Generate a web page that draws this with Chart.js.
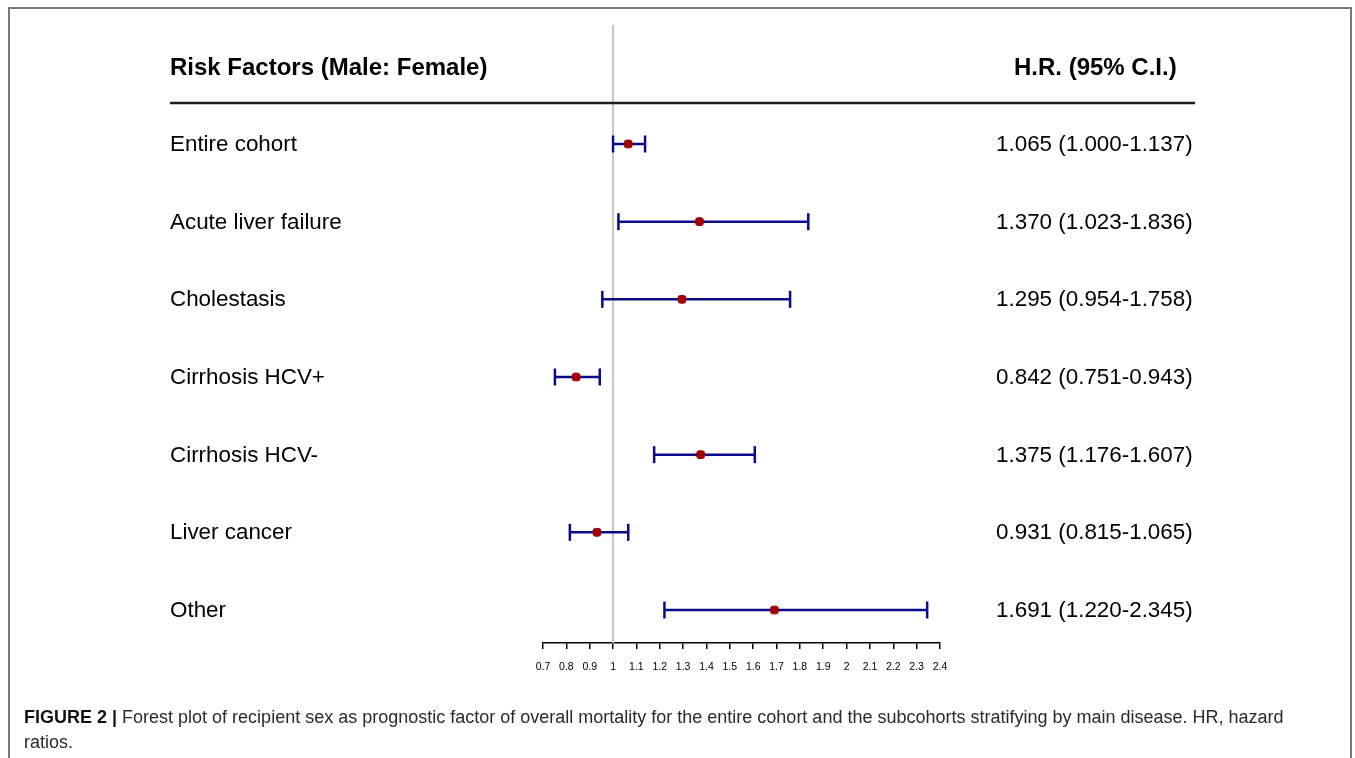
<!DOCTYPE html>
<html>
<head>
<meta charset="utf-8">
<script src="https://cdn.jsdelivr.net/npm/chart.js@4"></script>
<style>
  html, body { margin:0; padding:0; background:#fff; width:1355px; height:758px; overflow:hidden; }
  #frame { position:absolute; left:8px; top:7px; width:1344px; height:800px; border:2px solid #7a7a7a; box-sizing:border-box; }
  #wrap { position:absolute; left:0; top:0; width:1355px; height:758px; }
  #caption { position:absolute; left:24px; top:705px; font-family:"Liberation Sans", Arial, sans-serif; font-size:18px; line-height:25px; color:#2a2a2a; white-space:nowrap; }
  #caption b { color:#111; }
</style>
</head>
<body>
<div id="frame"></div>
<div id="wrap"><canvas id="c" width="1355" height="758"></canvas></div>
<div id="caption"><b>FIGURE 2 |</b> Forest plot of recipient sex as prognostic factor of overall mortality for the entire cohort and the subcohorts stratifying by main disease. HR, hazard<br>ratios.</div>
<script>
const categories = ["Entire cohort", "Acute liver failure", "Cholestasis", "Cirrhosis HCV+", "Cirrhosis HCV-", "Liver cancer", "Other"];
const hr    = [1.065, 1.370, 1.295, 0.842, 1.375, 0.931, 1.691];
const lower = [1.000, 1.023, 0.954, 0.751, 1.176, 0.815, 1.220];
const upper = [1.137, 1.836, 1.758, 0.943, 1.607, 1.065, 2.345];
const xTicks = [0.7, 0.8, 0.9, 1, 1.1, 1.2, 1.3, 1.4, 1.5, 1.6, 1.7, 1.8, 1.9, 2, 2.1, 2.2, 2.3, 2.4];
const xTickLabels = ["0.7","0.8","0.9","1","1.1","1.2","1.3","1.4","1.5","1.6","1.7","1.8","1.9","2","2.1","2.2","2.3","2.4"];
const refValue = 1;
const leftHeader = "Risk Factors (Male: Female)";
const rightHeader = "H.R. (95% C.I.)";

const Y_MIN = -1.532, Y_MAX = 6.425;
const FONT = '"Liberation Sans", Arial, sans-serif';
const NAVY = '#0a0a8a';
const RED = '#a00000';

const fmt = v => v.toFixed(3);
const hrText = categories.map((c, i) => `${fmt(hr[i])} (${fmt(lower[i])}-${fmt(upper[i])})`);

const ciDatasets = categories.map((c, i) => ({
  type: 'line',
  label: c + ' CI',
  data: [{x: lower[i], y: i}, {x: upper[i], y: i}],
  borderColor: NAVY,
  borderWidth: 2.5,
  pointStyle: 'line',
  pointRotation: 90,
  pointRadius: 8.5,
  pointBorderWidth: 2.5,
  pointBorderColor: NAVY,
  pointHoverRadius: 8.5,
  order: 2,
  clip: false
}));

const textPlugin = {
  id: 'forestText',
  afterDraw(chart) {
    const ctx = chart.ctx;
    const y = chart.scales.y;
    ctx.save();
    ctx.fillStyle = '#000';
    ctx.textBaseline = 'middle';
    ctx.font = 'bold 24px ' + FONT;
    ctx.textAlign = 'left';
    ctx.fillText(leftHeader, 170, 68);
    ctx.fillText(rightHeader, 1014, 68);
    ctx.strokeStyle = '#1e1e1e';
    ctx.lineWidth = 2.5;
    ctx.beginPath();
    ctx.moveTo(170, 103);
    ctx.lineTo(1195, 103);
    ctx.stroke();
    ctx.font = '22.4px ' + FONT;
    categories.forEach((c, i) => {
      const py = y.getPixelForValue(i) + 1;
      ctx.textAlign = 'left';
      ctx.fillText(c, 170, py);
      ctx.fillText(hrText[i], 996, py);
    });
    ctx.restore();
  }
};

new Chart(document.getElementById('c'), {
  type: 'scatter',
  data: {
    datasets: [
      {
        type: 'scatter',
        label: 'HR',
        data: categories.map((c, i) => ({x: hr[i], y: i})),
        pointStyle: 'rectRounded',
        pointRadius: 4.5,
        pointHoverRadius: 4.5,
        backgroundColor: RED,
        borderColor: RED,
        borderWidth: 1,
        order: 0,
        clip: false
      },
      ...ciDatasets,
      {
        type: 'line',
        label: 'ref',
        data: [{x: refValue, y: Y_MIN}, {x: refValue, y: Y_MAX}],
        borderColor: '#c8c8c8',
        borderWidth: 2.2,
        pointRadius: 0,
        order: 10,
        clip: false
      }
    ]
  },
  options: {
    responsive: false,
    animation: false,
    devicePixelRatio: 1,
    layout: { padding: { left: 543, right: 415, top: 25, bottom: 85 } },
    plugins: { legend: { display: false }, tooltip: { enabled: false } },
    events: [],
    scales: {
      x: {
        type: 'linear',
        min: 0.7,
        max: 2.4,
        afterBuildTicks(scale) { scale.ticks = xTicks.map(v => ({value: v})); },
        afterFit(scale) { scale.height = 30; },
        border: { display: true, color: '#000', width: 1.5 },
        grid: { display: true, drawOnChartArea: false, drawTicks: true, tickLength: 6, color: '#000', lineWidth: 1.5 },
        ticks: {
          autoSkip: false, maxRotation: 0, minRotation: 0, padding: 12,
          color: '#000',
          font: { family: FONT, size: 10.5 },
          callback: (v, idx) => xTickLabels[idx]
        }
      },
      y: {
        type: 'linear',
        display: false,
        reverse: true,
        min: Y_MIN,
        max: Y_MAX
      }
    }
  },
  plugins: [textPlugin]
});
</script>
</body>
</html>
